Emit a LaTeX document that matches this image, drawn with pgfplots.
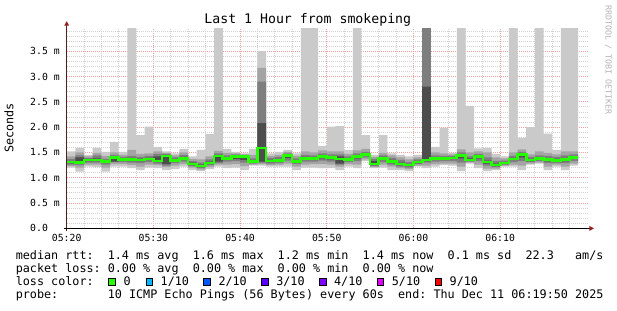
\documentclass[border=0pt]{standalone}
\usepackage{fontspec}
\usepackage{pgfplots}
\pgfplotsset{compat=1.18}
\usepackage{pgfplotstable}
\usepgfplotslibrary{fillbetween}
\newfontfamily\mono{DejaVu Sans Mono}
\definecolor{cA}{HTML}{CACACA}
\definecolor{cB}{HTML}{A4A4A4}
\definecolor{cC}{HTML}{7E7E7E}
\definecolor{cD}{HTML}{4D4D4D}
\definecolor{medc}{HTML}{26FF00}
\definecolor{mgrid}{HTML}{F2A0A0}
\definecolor{ngrid}{HTML}{D2D2D2}
\definecolor{arrowred}{HTML}{962020}
\definecolor{leftax}{HTML}{502020}
\definecolor{wm}{HTML}{B4B4B4}
\definecolor{lz}{HTML}{26FF00}
\definecolor{la}{HTML}{00B8FF}
\definecolor{lb}{HTML}{0059FF}
\definecolor{lc}{HTML}{5E00FF}
\definecolor{ld}{HTML}{7E00FF}
\definecolor{le}{HTML}{DD00FF}
\definecolor{lf}{HTML}{FF0000}
\pgfplotstableread{
t lo1 lo2 lo3 lo4 hi4 hi3 hi2 hi1 med
0 1.20 1.23 1.26 1.29 1.33 1.37 1.42 1.52 1.31
1 1.12 1.20 1.25 1.28 1.40 1.44 1.50 1.59 1.30
2 1.22 1.26 1.30 1.33 1.37 1.39 1.42 1.45 1.35
3 1.21 1.26 1.30 1.33 1.38 1.44 1.49 1.59 1.35
4 1.12 1.20 1.26 1.30 1.34 1.37 1.43 1.51 1.32
5 1.22 1.27 1.31 1.32 1.42 1.45 1.50 1.71 1.40
6 1.22 1.27 1.31 1.34 1.38 1.41 1.45 1.51 1.36
7 1.19 1.25 1.30 1.33 1.39 1.43 1.55 4.00 1.36
8 1.15 1.22 1.29 1.33 1.37 1.41 1.47 1.84 1.35
9 1.20 1.26 1.31 1.35 1.39 1.43 1.48 2.01 1.37
10 1.19 1.25 1.28 1.31 1.42 1.47 1.52 1.61 1.33
11 1.15 1.21 1.24 1.27 1.45 1.47 1.49 1.52 1.43
12 1.17 1.24 1.29 1.32 1.37 1.40 1.44 1.48 1.34
13 1.22 1.27 1.32 1.35 1.41 1.45 1.50 1.57 1.38
14 1.15 1.20 1.23 1.25 1.30 1.33 1.37 1.42 1.27
15 1.13 1.16 1.19 1.21 1.26 1.30 1.36 1.55 1.23
16 1.17 1.21 1.25 1.27 1.32 1.36 1.42 1.86 1.29
17 1.22 1.26 1.29 1.32 1.45 1.48 1.53 4.00 1.43
18 1.19 1.26 1.32 1.36 1.40 1.44 1.49 1.57 1.38
19 1.20 1.27 1.33 1.37 1.44 1.46 1.48 1.51 1.42
20 1.15 1.23 1.30 1.35 1.43 1.45 1.46 1.48 1.42
21 1.24 1.26 1.28 1.30 1.34 1.38 1.45 1.57 1.32
22 1.24 1.27 1.30 1.32 2.08 2.90 3.17 3.50 1.59
23 1.22 1.25 1.28 1.31 1.35 1.39 1.43 1.48 1.33
24 1.22 1.26 1.29 1.32 1.37 1.41 1.45 1.51 1.34
25 1.22 1.28 1.34 1.39 1.46 1.48 1.51 1.55 1.44
26 1.15 1.22 1.27 1.30 1.34 1.38 1.43 1.48 1.32
27 1.20 1.26 1.32 1.35 1.41 1.45 1.52 4.00 1.38
28 1.20 1.27 1.32 1.36 1.40 1.44 1.50 4.00 1.38
29 1.19 1.27 1.34 1.38 1.44 1.48 1.54 1.63 1.42
30 1.19 1.26 1.32 1.36 1.42 1.46 1.52 2.01 1.40
31 1.15 1.22 1.26 1.28 1.42 1.46 1.52 2.02 1.37
32 1.22 1.27 1.31 1.34 1.38 1.42 1.47 1.55 1.36
33 1.19 1.26 1.33 1.38 1.44 1.48 1.54 4.00 1.42
34 1.33 1.36 1.40 1.43 1.48 1.51 1.57 1.84 1.46
35 1.19 1.21 1.23 1.25 1.33 1.37 1.41 1.45 1.27
36 1.20 1.26 1.31 1.35 1.41 1.44 1.49 1.84 1.38
37 1.15 1.22 1.26 1.29 1.35 1.39 1.44 1.48 1.32
38 1.15 1.19 1.22 1.25 1.30 1.35 1.40 1.45 1.27
39 1.13 1.17 1.20 1.23 1.27 1.31 1.36 1.42 1.25
40 1.22 1.24 1.27 1.29 1.33 1.36 1.40 1.45 1.31
41 1.19 1.24 1.30 1.33 2.80 4.00 4.00 4.00 1.35
42 1.22 1.27 1.32 1.36 1.40 1.44 1.50 1.61 1.38
43 1.25 1.28 1.33 1.36 1.40 1.43 1.48 1.98 1.38
44 1.24 1.28 1.33 1.37 1.41 1.43 1.46 1.49 1.39
45 1.13 1.22 1.30 1.38 1.46 1.50 1.56 4.00 1.44
46 1.28 1.30 1.32 1.34 1.38 1.42 1.50 2.42 1.35
47 1.19 1.26 1.33 1.38 1.44 1.47 1.52 1.58 1.42
48 1.13 1.18 1.24 1.28 1.34 1.40 1.50 1.59 1.31
49 1.15 1.18 1.21 1.23 1.28 1.33 1.40 1.47 1.25
50 1.22 1.24 1.26 1.27 1.31 1.34 1.38 1.42 1.29
51 1.22 1.26 1.31 1.35 1.39 1.43 1.50 4.00 1.37
52 1.15 1.24 1.33 1.40 1.48 1.51 1.56 1.79 1.46
53 1.26 1.28 1.31 1.33 1.37 1.41 1.46 2.00 1.35
54 1.28 1.30 1.33 1.36 1.40 1.44 1.52 4.00 1.38
55 1.15 1.22 1.29 1.33 1.38 1.43 1.49 1.87 1.36
56 1.22 1.26 1.29 1.32 1.37 1.41 1.46 1.55 1.34
57 1.15 1.22 1.29 1.33 1.39 1.44 1.52 4.00 1.36
58 1.24 1.28 1.33 1.37 1.42 1.46 1.52 4.00 1.40
59 1.24 1.28 1.33 1.37 1.42 1.46 1.52 4.00 1.40
}\smoke
\begin{document}
\begin{tikzpicture}[x=1pt,y=1pt]
\begin{axis}[
  at={(66.7pt,81.7pt)}, anchor=south west, scale only axis,
  width=521.3pt, height=200pt,
  xmin=0, xmax=60.13, ymin=0, ymax=3.953,
  axis line style={draw=none},
  major tick style={draw=none}, minor tick style={draw=none},
  xtick={0,10,20,30,40,50},
  xticklabels={05:20,05:30,05:40,05:50,06:00,06:10},
  minor xtick={2,4,6,8,12,14,16,18,22,24,26,28,32,34,36,38,42,44,46,48,52,54,56,58},
  ytick={0,0.5,1,1.5,2,2.5,3,3.5},
  yticklabels={0.0,0.5 m,1.0 m,1.5 m,2.0 m,2.5 m,3.0 m,3.5 m},
  minor ytick={0.1,0.2,0.3,0.4,0.6,0.7,0.8,0.9,1.1,1.2,1.3,1.4,1.6,1.7,1.8,1.9,2.1,2.2,2.3,2.4,2.6,2.7,2.8,2.9,3.1,3.2,3.3,3.4,3.6,3.7,3.8,3.9},
  grid=both,
  major grid style={mgrid, line width=0.8pt, dash pattern=on 1pt off 1pt},
  minor grid style={ngrid, line width=0.8pt, dash pattern=on 1pt off 1pt},
  xticklabel style={font={\fontsize{9.8pt}{11pt}\mono}, anchor=north, inner sep=0pt, yshift=-6.2pt},
  yticklabel style={font={\fontsize{9.8pt}{11pt}\mono}, anchor=west, inner sep=0pt, xshift=-36.7pt},
]
\addplot[draw=none, const plot mark left, name path=L1] table[x=t,y=lo1]{\smoke};
\addplot[draw=none, const plot mark left, name path=L2] table[x=t,y=lo2]{\smoke};
\addplot[draw=none, const plot mark left, name path=L3] table[x=t,y=lo3]{\smoke};
\addplot[draw=none, const plot mark left, name path=L4] table[x=t,y=lo4]{\smoke};
\addplot[draw=none, const plot mark left, name path=H4] table[x=t,y=hi4]{\smoke};
\addplot[draw=none, const plot mark left, name path=H3] table[x=t,y=hi3]{\smoke};
\addplot[draw=none, const plot mark left, name path=H2] table[x=t,y=hi2]{\smoke};
\addplot[draw=none, const plot mark left, name path=H1] table[x=t,y=hi1]{\smoke};
\addplot[fill=cA, draw=none] fill between[of=H1 and L1];
\addplot[fill=cB, draw=none] fill between[of=H2 and L2];
\addplot[fill=cC, draw=none] fill between[of=H3 and L3];
\addplot[fill=cD, draw=none] fill between[of=H4 and L4];
\addplot[medc, line width=2.7pt, const plot mark left] table[x=t,y=med]{\smoke};
\end{axis}
% axes
\draw[line width=1pt, leftax] (66.7,79) -- (66.7,284.5);
\fill[arrowred] (64.2,284.3) -- (69.2,284.3) -- (66.7,288.8) -- cycle;
\draw[line width=1pt, black] (63.5,81.6) -- (589.5,81.6);
\fill[arrowred] (589.3,84.1) -- (589.3,79.1) -- (594,81.6) -- cycle;
% title and labels
\node[font={\fontsize{13.2pt}{15pt}\mono}, anchor=base, inner sep=0pt] at (307.8,286) {Last 1 Hour from smokeping};
\node[font={\fontsize{11.76pt}{13pt}\mono}, rotate=90, anchor=base, inner sep=0pt] at (13.3,182) {Seconds};
\node[font={\fontsize{8.3pt}{9pt}\mono}, text=wm, rotate=-90, anchor=center, inner sep=0pt] at (608.3,250) {RRDTOOL / TOBI OETIKER};
% legend
\begin{scope}[every node/.style={font={\fontsize{11.76pt}{13pt}\mono}, anchor=base west, inner sep=0pt}]
\node at (15.6,50.7) {median~rtt:~~1.4~ms~avg~~1.6~ms~max~~1.2~ms~min~~1.4~ms~now~~0.1~ms~sd~~22.3~~~am/s};
\node at (15.6,37.6) {packet~loss:~0.00~\%~avg~~0.00~\%~max~~0.00~\%~min~~0.00~\%~now};
\node at (15.6,24.5) {loss~color:};
\node at (123.5,24.5) {0};
\node at (160.5,24.5) {1/10};
\node at (218.3,24.5) {2/10};
\node at (276.1,24.5) {3/10};
\node at (333.9,24.5) {4/10};
\node at (391.7,24.5) {5/10};
\node at (449.5,24.5) {9/10};
\node at (15.6,11.4) {probe:~~~~~~~10~ICMP~Echo~Pings~(56~Bytes)~every~60s~~end:~Thu~Dec~11~06:19:50~2025};
\end{scope}
\filldraw[fill=lz, draw=black, line width=0.8pt] (108.6,24.6) rectangle +(6.6,6.6);
\filldraw[fill=la, draw=black, line width=0.8pt] (146.0,24.6) rectangle +(6.6,6.6);
\filldraw[fill=lb, draw=black, line width=0.8pt] (203.8,24.6) rectangle +(6.6,6.6);
\filldraw[fill=lc, draw=black, line width=0.8pt] (261.6,24.6) rectangle +(6.6,6.6);
\filldraw[fill=ld, draw=black, line width=0.8pt] (319.4,24.6) rectangle +(6.6,6.6);
\filldraw[fill=le, draw=black, line width=0.8pt] (377.2,24.6) rectangle +(6.6,6.6);
\filldraw[fill=lf, draw=black, line width=0.8pt] (435.0,24.6) rectangle +(6.6,6.6);
\pgfresetboundingbox
\useasboundingbox (0,0) rectangle (617,310);
\end{tikzpicture}
\end{document}
